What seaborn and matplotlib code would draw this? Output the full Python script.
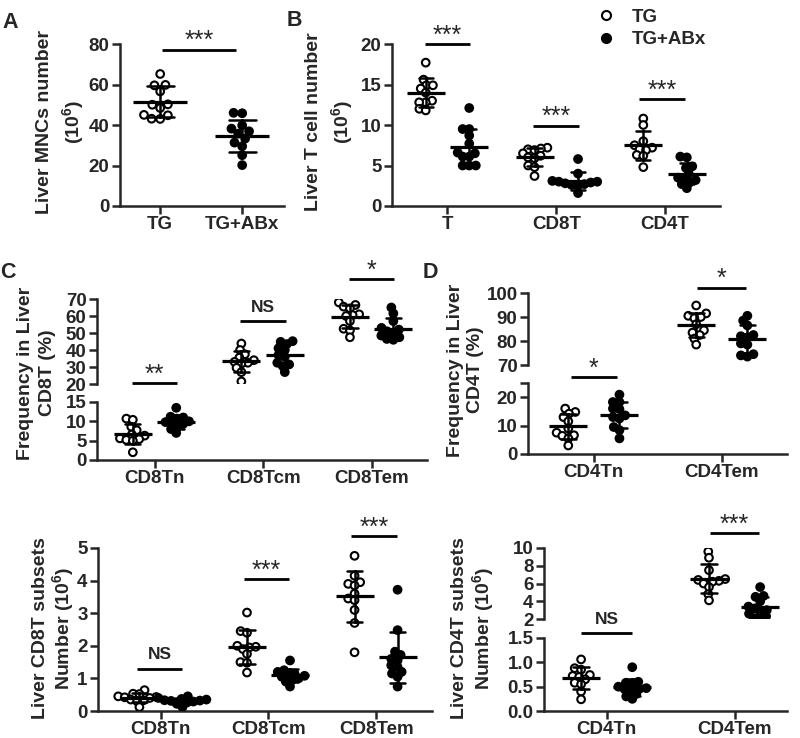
import warnings
warnings.filterwarnings("ignore")
import numpy as np
import pandas as pd
import matplotlib
matplotlib.use("Agg")
import matplotlib.pyplot as plt
from matplotlib.lines import Line2D
import seaborn as sns

GROUPS = ["TG", "TG+ABx"]

# ---- Panel A: liver MNCs number (10^6)
A_TG = [65.2, 59.8, 59.6, 56.6, 50.2, 50.0, 48.4, 45.0, 44.8, 43.1, 43.0]
A_ABX = [46.0, 45.8, 39.8, 38.2, 36.9, 35.7, 33.3, 31.3, 29.5, 25.1, 20.2]

# ---- Panel B: liver T cell number (10^6)
B_CATS = ["T", "CD8T", "CD4T"]
B_T_TG = [17.7, 15.6, 14.9, 14.9, 14.5, 14.0, 13.0, 12.8, 12.8, 12.0, 11.8]
B_T_ABX = [12.1, 9.5, 9.5, 8.7, 7.7, 6.6, 6.5, 6.1, 6.1, 5.0, 5.0, 5.0]
B_CD8_TG = [7.2, 7.1, 7.0, 6.9, 6.5, 6.2, 6.0, 5.9, 5.0, 4.8, 3.7]
B_CD8_ABX = [5.8, 4.0, 3.1, 3.0, 3.0, 2.9, 2.8, 2.7, 2.6, 2.5, 1.6]
B_CD4_TG = [10.8, 10.0, 8.0, 7.5, 7.2, 7.0, 6.9, 6.3, 6.2, 4.8]
B_CD4_ABX = [6.1, 6.0, 4.9, 4.7, 4.0, 3.5, 3.4, 3.2, 2.9, 2.7, 2.2]

# ---- Panel C: frequency in liver CD8T (%)
C_CATS = ["CD8Tn", "CD8Tcm", "CD8Tem"]
C_N_TG = [10.7, 10.4, 8.6, 7.7, 6.6, 6.3, 5.6, 5.4, 5.2, 5.0, 2.0]
C_N_ABX = [13.5, 11.2, 11.0, 10.7, 10.0, 9.8, 9.6, 9.3, 8.6, 8.0, 7.0]
C_CM_TG = [43.8, 40.0, 37.5, 35.5, 34.0, 33.0, 32.5, 32.0, 29.5, 27.0, 21.5]
C_CM_ABX = [45.2, 44.8, 43.5, 41.0, 40.0, 37.0, 36.0, 32.5, 31.5, 30.5, 27.0]
C_EM_TG = [68.0, 66.5, 65.5, 64.5, 61.0, 60.5, 60.0, 57.0, 52.5, 51.5, 47.5]
C_EM_ABX = [65.0, 61.5, 57.0, 53.0, 52.0, 51.0, 50.0, 48.5, 47.5, 46.5, 46.0]

# ---- Panel D: frequency in liver CD4T (%)
D_CATS = ["CD4Tn", "CD4Tem"]
D_N_TG = [16.0, 14.8, 14.2, 13.0, 11.5, 9.0, 7.5, 6.6, 6.4, 5.5, 3.0]
D_N_ABX = [20.9, 18.3, 18.3, 16.0, 15.8, 13.6, 13.0, 12.5, 9.5, 8.4, 5.5]
D_EM_TG = [94.8, 91.5, 90.5, 90.0, 89.5, 87.0, 84.5, 83.5, 82.5, 81.0, 78.5]
D_EM_ABX = [90.5, 88.5, 86.5, 82.5, 82.0, 81.5, 79.0, 78.5, 74.5, 74.0, 73.5]

# ---- Panel E: liver CD8T subsets number (10^6)
E_N_TG = [0.64, 0.53, 0.52, 0.45, 0.43, 0.42, 0.40, 0.35, 0.33, 0.30, 0.12]
E_N_ABX = [0.45, 0.40, 0.37, 0.35, 0.33, 0.32, 0.31, 0.29, 0.26, 0.22, 0.12]
E_CM_TG = [3.02, 2.45, 2.40, 2.00, 1.97, 1.95, 1.90, 1.75, 1.50, 1.48, 1.18]
E_CM_ABX = [1.55, 1.25, 1.20, 1.15, 1.10, 1.08, 1.05, 1.00, 0.95, 0.90, 0.75]
E_EM_TG = [4.76, 4.15, 3.95, 3.90, 3.85, 3.60, 3.45, 3.40, 3.10, 2.70, 1.80]
E_EM_ABX = [3.72, 2.48, 1.82, 1.72, 1.60, 1.55, 1.40, 1.35, 1.20, 1.15, 1.05, 0.75]

# ---- Panel F: liver CD4T subsets number (10^6)
F_N_TG = [1.06, 0.88, 0.85, 0.74, 0.72, 0.70, 0.65, 0.58, 0.55, 0.40, 0.24]
F_N_ABX = [0.90, 0.60, 0.58, 0.55, 0.50, 0.47, 0.46, 0.45, 0.42, 0.35, 0.30, 0.25]
F_EM_TG = [9.6, 8.9, 7.5, 6.5, 6.4, 6.3, 6.2, 6.0, 5.6, 4.8, 4.1]
F_EM_ABX = [5.6, 4.6, 4.5, 4.0, 3.4, 3.2, 3.0, 2.8, 2.6, 2.3, 2.1, 2.0]

# ---------------------------------------------------------------- style
sns.set_style("ticks")
plt.rcParams["font.family"] = ["Liberation Sans", "DejaVu Sans"]
plt.rcParams["font.weight"] = "bold"
plt.rcParams["mathtext.default"] = "regular"
plt.rcParams["axes.linewidth"] = 1.8

PAL = {"TG": "white", "TG+ABx": "black"}
BLK = {"TG": "black", "TG+ABx": "black"}
TICK_FS = 13.5
LAB_FS = 14
LAYOUT_SIZE = 3.0   # marker size used for the swarm layout (allows some overlap)
DRAW_SIZE = 5.5     # marker size actually drawn
W, H = 800, 738

fig = plt.figure(figsize=(8, 7.38), dpi=100)


def add_ax(x0, x1, ytop, ybot):
    return fig.add_axes([x0 / W, 1 - ybot / H, (x1 - x0) / W, (ybot - ytop) / H])


def long_df(cats, tg, abx):
    rows = []
    for c, t, a in zip(cats, tg, abx):
        rows += [(c, "TG", v) for v in t]
        rows += [(c, "TG+ABx", v) for v in a]
    return pd.DataFrame(rows, columns=["cat", "group", "value"])


def draw(ax, df, cats, capsize, mw=28):
    sns.swarmplot(data=df, x="cat", y="value", hue="group", order=cats,
                  hue_order=GROUPS, dodge=True, palette=PAL, edgecolor="black",
                  linewidth=1.5, size=LAYOUT_SIZE, legend=False, ax=ax,
                  clip_on=True)
    sns.pointplot(data=df, x="cat", y="value", hue="group", order=cats,
                  hue_order=GROUPS, dodge=0.4, palette=BLK, errorbar="sd",
                  capsize=capsize, linestyle="none", marker="_", markersize=mw,
                  markeredgewidth=2.3,
                  err_kws={"linewidth": 1.8, "zorder": 4, "clip_on": True},
                  zorder=4, clip_on=True, legend=False, ax=ax)


def style(ax, xlim, ylim, yticks, ylabels=None, cats=None, bottom=True):
    ax.set_xlim(*xlim)
    ax.set_ylim(*ylim)
    ax.set_yticks(yticks)
    if ylabels is not None:
        ax.set_yticklabels(ylabels)
    sns.despine(ax=ax)
    ax.set_xlabel("")
    ax.set_ylabel("")
    ax.tick_params(axis="both", length=5.5, width=1.8, labelsize=TICK_FS, pad=2)
    ax.spines["left"].set_linewidth(1.8)
    ax.spines["bottom"].set_linewidth(1.8)
    if bottom:
        ax.set_xticks(range(len(cats)))
        ax.set_xticklabels(cats)
    else:
        ax.spines["bottom"].set_visible(False)
        ax.tick_params(axis="x", bottom=False, labelbottom=False)
    ax.patch.set_alpha(0)


def sig(ax, x0, x1, y, text):
    ax.plot([x0, x1], [y, y], color="black", lw=2, clip_on=False,
            solid_capstyle="butt")
    if "*" in text:
        ax.annotate(text, xy=((x0 + x1) / 2, y), xytext=(0, -2.5),
                    textcoords="offset points", ha="center", va="bottom",
                    fontsize=18, fontweight="normal", annotation_clip=False)
    else:
        ax.annotate(text, xy=((x0 + x1) / 2, y), xytext=(0, 4.5),
                    textcoords="offset points", ha="center", va="bottom",
                    fontsize=12.5, fontweight="bold", annotation_clip=False)


def ylab(x1, x2, yc, line1, line2):
    fig.text(x1 / W, 1 - yc / H, line1, rotation=90, ha="center", va="center",
             fontsize=LAB_FS, fontweight="bold")
    fig.text(x2 / W, 1 - yc / H, line2, rotation=90, ha="center", va="center",
             fontsize=LAB_FS, fontweight="bold")


def letter(x, y, s):
    fig.text(x / W, 1 - y / H, s, fontsize=15.5, fontweight="bold",
             ha="center", va="center")


# ---------------------------------------------------------------- Panel A
axA = add_ax(120, 284, 44, 206)
dfA = pd.DataFrame({"group": ["TG"] * len(A_TG) + ["TG+ABx"] * len(A_ABX),
                    "value": A_TG + A_ABX})
sns.swarmplot(data=dfA, x="group", y="value", hue="group", order=GROUPS,
              hue_order=GROUPS, palette=PAL, edgecolor="black", linewidth=1.5,
              size=4.4, legend=False, ax=axA, clip_on=True)
sns.pointplot(data=dfA, x="group", y="value", order=GROUPS, color="black",
              errorbar="sd", capsize=0.33, linestyle="none", marker="_",
              markersize=39, markeredgewidth=2.3,
              err_kws={"linewidth": 1.8, "zorder": 4}, zorder=4, ax=axA)
style(axA, (-0.49, 1.51), (0, 80), [0, 20, 40, 60, 80], cats=GROUPS)
sig(axA, 0.02, 0.93, 77.2, "***")
ylab(45, 73, 122, "Liver MNCs number", "(10$^6$)")
letter(10, 22, "A")

# ---------------------------------------------------------------- Panel B
axB = add_ax(392, 720, 44, 206)
dfB = long_df(B_CATS, [B_T_TG, B_CD8_TG, B_CD4_TG], [B_T_ABX, B_CD8_ABX, B_CD4_ABX])
draw(axB, dfB, B_CATS, 0.13)
style(axB, (-0.51, 2.505), (0, 20), [0, 5, 10, 15, 20], cats=B_CATS)
sig(axB, -0.21, 0.21, 20.0, "***")
sig(axB, 0.79, 1.21, 9.9, "***")
sig(axB, 1.76, 2.18, 13.2, "***")
ylab(313, 342, 122, "Liver T cell number", "(10$^6$)")
letter(294, 21, "B")
handles = [Line2D([], [], marker="o", ls="none", mfc="white", mec="black", mew=1.5, ms=6.5),
           Line2D([], [], marker="o", ls="none", mfc="black", mec="black", mew=1.5, ms=6.5)]
fig.legend(handles, GROUPS, loc="upper left", bbox_to_anchor=(587 / W, 1 + 1 / H),
           frameon=False, borderpad=0, handlelength=1.0, handletextpad=0.9,
           labelspacing=0.3, prop={"size": 13.5, "weight": "bold"})

# ---------------------------------------------------------------- Panel C (broken)
dfC = long_df(C_CATS, [C_N_TG, C_CM_TG, C_EM_TG], [C_N_ABX, C_CM_ABX, C_EM_ABX])
axCu = add_ax(97, 427, 299, 384)
axCl = add_ax(97, 427, 402, 460)
draw(axCu, dfC, C_CATS, 0.14)
draw(axCl, dfC, C_CATS, 0.14)
style(axCu, (-0.53, 2.51), (20, 70), [20, 30, 40, 50, 60, 70], bottom=False)
style(axCl, (-0.53, 2.51), (0, 15), [0, 5, 10, 15], cats=C_CATS)
sig(axCu, -0.21, 0.21, 20.3, "**")
sig(axCu, 0.79, 1.21, 56.9, "NS")
sig(axCu, 1.79, 2.21, 81.8, "*")
ylab(26, 48, 373, "Frequency in Liver", "CD8T (%)")
letter(8, 272, "C")

# ---------------------------------------------------------------- Panel D (broken)
dfD = long_df(D_CATS, [D_N_TG, D_EM_TG], [D_N_ABX, D_EM_ABX])
axDu = add_ax(528, 787, 293, 365)
axDl = add_ax(528, 787, 383, 454)
draw(axDu, dfD, D_CATS, 0.12)
draw(axDl, dfD, D_CATS, 0.12)
style(axDu, (-0.515, 1.51), (70, 100), [70, 80, 90, 100], bottom=False)
style(axDl, (-0.515, 1.51), (0, 25), [0, 10, 20, 25], ["0", "10", "20", ""], cats=D_CATS)
sig(axDl, -0.18, 0.18, 27.0, "*")
sig(axDu, 0.81, 1.19, 102.2, "*")
ylab(455, 476, 370, "Frequency in Liver", "CD4T (%)")
letter(430, 272, "D")

# ---------------------------------------------------------------- Panel E
dfE = long_df(C_CATS, [E_N_TG, E_CM_TG, E_EM_TG], [E_N_ABX, E_CM_ABX, E_EM_ABX])
axE = add_ax(98, 432, 548, 711)
draw(axE, dfE, C_CATS, 0.14)
style(axE, (-0.585, 2.52), (0, 5), [0, 1, 2, 3, 4, 5], cats=C_CATS)
sig(axE, -0.22, 0.2, 1.3, "NS")
sig(axE, 0.77, 1.19, 4.04, "***")
sig(axE, 1.77, 2.19, 5.37, "***")
ylab(41, 63, 628, "Liver CD8T subsets", "Number (10$^6$)")

# ---------------------------------------------------------------- Panel F (broken)
dfF = long_df(D_CATS, [F_N_TG, F_EM_TG], [F_N_ABX, F_EM_ABX])
axFu = add_ax(544, 787, 548, 619)
axFl = add_ax(544, 787, 638, 711)
draw(axFu, dfF, D_CATS, 0.12)
draw(axFl, dfF, D_CATS, 0.12)
style(axFu, (-0.49, 1.41), (2, 10), [2, 4, 6, 8, 10], bottom=False)
style(axFl, (-0.49, 1.41), (0, 1.5), [0.0, 0.5, 1.0, 1.5],
      ["0.0", "0.5", "1.0", "1.5"], cats=D_CATS)
sig(axFl, -0.2, 0.2, 1.6, "NS")
sig(axFu, 0.81, 1.19, 11.66, "***")
ylab(460, 483, 628, "Liver CD4T subsets", "Number (10$^6$)")

# Lay the swarms out once with compact markers (GraphPad-like overlap), then
# freeze those positions and draw the markers at their final size.
fig.canvas.draw()
for ax in fig.axes:
    for coll in ax.collections:
        coll.__dict__.pop("draw", None)
        coll.set_sizes([DRAW_SIZE ** 2])
        coll.set_clip_on(True)

fig.savefig("out.png", dpi=100)
